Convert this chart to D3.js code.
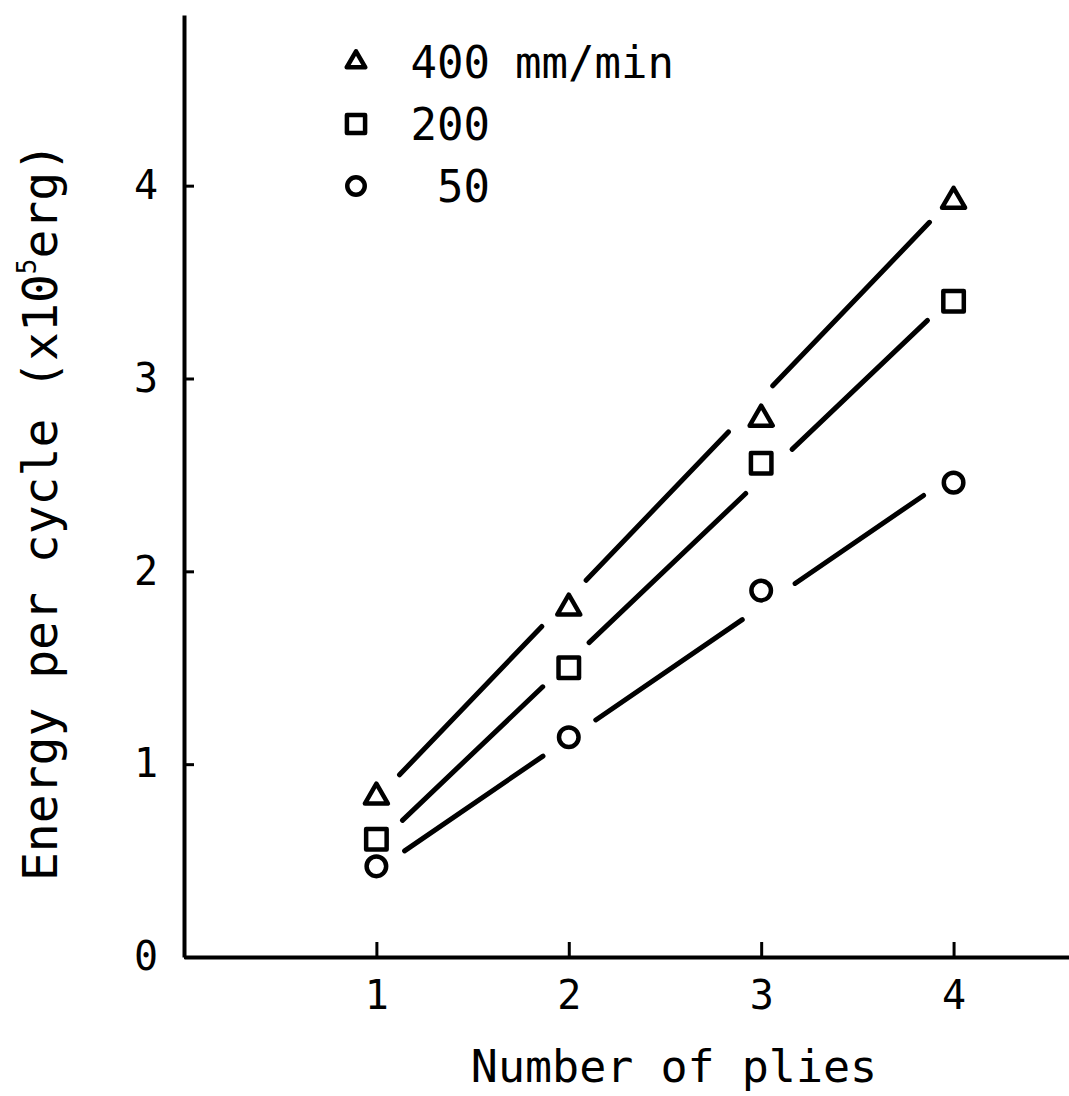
<!DOCTYPE html>
<html>
<head>
<meta charset="utf-8">
<script src="https://cdn.jsdelivr.net/npm/d3@7"></script>
<style>
  body { margin: 0; background: #fff; }
  text { font-family: "DejaVu Sans Mono", monospace; fill: #000; }
</style>
</head>
<body>
<svg width="1069" height="1096"></svg>
<script>
// data
var plies = [1, 2, 3, 4];
var speeds = ["400", "200", "50"];
var unit = "mm/min";
var energy400 = [0.83, 1.81, 2.79, 3.92];
var energy200 = [0.61, 1.50, 2.56, 3.40];
var energy50 = [0.47, 1.14, 1.90, 2.46];
// the drawn straight lines: value at 1 ply and at 4 plies
var fit400 = [0.82, 3.94];
var fit200 = [0.58, 3.43];
var fit50 = [0.45, 2.50];
var xTicks = [1, 2, 3, 4];
var yTicks = [0, 1, 2, 3, 4];

var svg = d3.select("svg"),
    width = 1069,
    height = 1096

var x = d3.scaleLinear().domain([0, 4.6]).range([184, 1069])
var y = d3.scaleLinear().domain([0, 4.885]).range([957, 15])

var series = [
  {name: speeds[0], values: energy400, fit: fit400, shape: d3.symbolTriangle, size: 230, lsize: 150},
  {name: speeds[1], values: energy200, fit: fit200, shape: d3.symbolSquare, size: 420, lsize: 330},
  {name: speeds[2], values: energy50, fit: fit50, shape: d3.symbolCircle, size: 300, lsize: 240}
];

// axes
var yAxis = svg.append("g")
    .attr("transform", "translate(184,0)")
    .call(d3.axisLeft(y).tickValues(yTicks).tickFormat(d3.format("d")).tickSize(-10).tickSizeOuter(0).tickPadding(26))
var xAxis = svg.append("g")
    .attr("transform", "translate(0,957)")
    .call(d3.axisBottom(x).tickValues(xTicks).tickFormat(d3.format("d")).tickSize(-15).tickSizeOuter(0).tickPadding(24))

svg.selectAll(".domain").attr("stroke", "#000").attr("stroke-width", 4)
svg.selectAll(".tick line").attr("stroke", "#000").attr("stroke-width", 3)
svg.selectAll(".tick text")
    .style("font-family", "'DejaVu Sans Mono', monospace")
    .attr("font-size", 40)
    .attr("fill", "#000")

// lines with gaps around the markers
var gap = 32
var line = d3.line()
series.forEach(function(s) {
  var ax = x(1), ay = y(s.fit[0]), bx = x(4), by = y(s.fit[1])
  var len = Math.hypot(bx - ax, by - ay)
  var ux = (bx - ax) / len, uy = (by - ay) / len
  var ts = s.values.map(function(v, i) {
    return (x(plies[i]) - ax) * ux + (y(v) - ay) * uy
  })
  for (var i = 0; i < ts.length - 1; i++) {
    var t0 = ts[i] + gap, t1 = ts[i + 1] - gap
    svg.append("path")
      .attr("d", line([[ax + ux * t0, ay + uy * t0], [ax + ux * t1, ay + uy * t1]]))
      .attr("fill", "none")
      .attr("stroke", "#000")
      .attr("stroke-width", 5)
      .attr("stroke-linecap", "round")
  }
})

// markers
series.forEach(function(s) {
  svg.append("g")
    .selectAll("path")
    .data(s.values)
    .enter()
    .append("path")
      .attr("transform", function(d, i) { return "translate(" + x(plies[i]) + "," + y(d) + ")" })
      .attr("d", d3.symbol().type(s.shape).size(s.size))
      .attr("fill", "#fff")
      .attr("stroke", "#000")
      .attr("stroke-width", 4.5)
      .attr("stroke-linejoin", "round")
})

// legend
var legendY = [62, 124, 186]
series.forEach(function(s, i) {
  svg.append("path")
    .attr("transform", "translate(356," + legendY[i] + ")")
    .attr("d", d3.symbol().type(s.shape).size(s.lsize))
    .attr("fill", "#fff")
    .attr("stroke", "#000")
    .attr("stroke-width", 4.5)
    .attr("stroke-linejoin", "round")
  svg.append("text")
    .attr("x", 490)
    .attr("y", legendY[i] + 16)
    .attr("text-anchor", "end")
    .attr("font-size", 44)
    .text(s.name)
})
svg.append("text")
    .attr("x", 515)
    .attr("y", legendY[0] + 16)
    .attr("font-size", 44)
    .text(unit)

// axis titles
svg.append("text")
    .attr("x", 674)
    .attr("y", 1082)
    .attr("text-anchor", "middle")
    .attr("font-size", 45)
    .text("Number of plies")

var ylab = svg.append("text")
    .attr("transform", "translate(57,512) rotate(-90)")
    .attr("text-anchor", "middle")
    .attr("font-size", 48)
ylab.append("tspan").text("Energy per cycle (x10")
ylab.append("tspan").attr("font-size", 26).attr("dy", -21).text("5")
ylab.append("tspan").attr("dy", 21).text("erg)")
</script>
</body>
</html>
